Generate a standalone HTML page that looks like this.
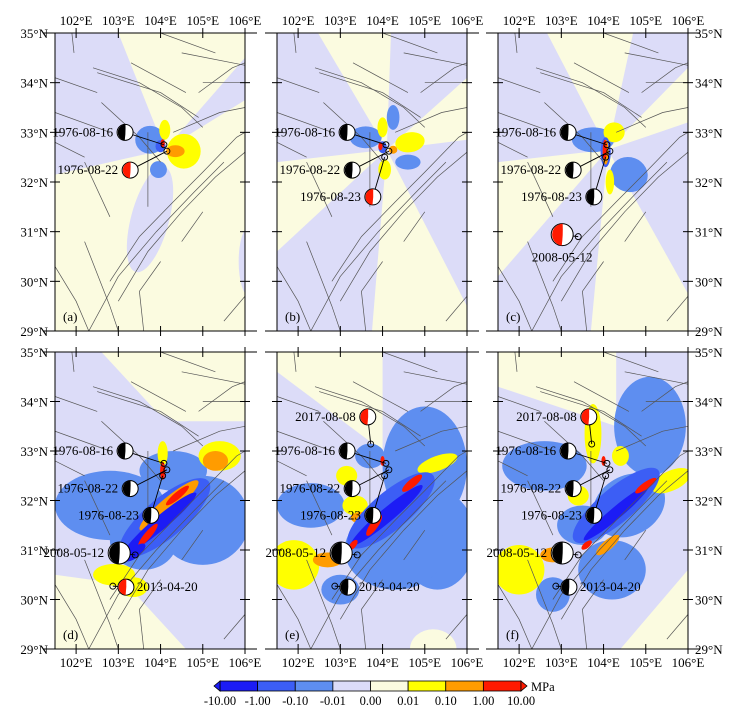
<!DOCTYPE html>
<html><head><meta charset="utf-8"><style>
html,body{margin:0;padding:0;background:#fff}
svg{display:block;font-family:"Liberation Serif",serif}
</style></head><body>
<svg id="fig" width="736" height="714" viewBox="0 0 736 714" xmlns="http://www.w3.org/2000/svg"></svg>
<script>
// ---------- data ----------
const lonTicks = [102,103,104,105,106];
const latTicks = [29,30,31,32,33,34,35];
const eventNames = ['1976-08-16','1976-08-22','1976-08-23','2008-05-12','2013-04-20','2017-08-08'];
const epiLon = [104.08,104.15,104.05,103.40,102.87,103.72];
const epiLat = [32.75,32.62,32.50,30.90,30.27,33.14];
const ballLon = [103.16,103.28,103.77,103.02,103.18,103.65];
const ballLat = [33.00,32.24,31.70,30.94,30.25,33.69];
const ballSize = [8,8,8,11,8,8];
const panelLetters = ['(a)','(b)','(c)','(d)','(e)','(f)'];
const panelEvents = [[0,1],[0,1,2],[0,1,2,3],[0,1,2,3,4],[0,1,2,3,4,5],[0,1,2,3,4,5]];
const panelRed = [1,2,3,4,5,5];
const cbarLabels = ['-10.00','-1.00','-0.10','-0.01','0.00','0.01','0.10','1.00','10.00'];
const cbarColors = ['#1c1cf5','#3c5ef5','#5e8ef0','#dcdcf8','#fbfbe0','#ffff00','#ff9c00','#ff1a00'];

const LAV='#dcdcf8',CRM='#fbfbe0',B1='#5e8ef0',B2='#3c5ef5',B3='#1c1cf5',YEL='#ffff00',ORG='#ff9c00',RED='#ff1a00';
const fields = [
 [ ['bg',CRM],
   ['p',LAV,[101.5,35,103.0,35,104.1,32.65,101.5,32.15]],
   ['p',LAV,[104.1,32.65,106,34.5,106,33.65]],
   ['e',LAV,103.75,31.25,0.45,1.1,-15],['e',LAV,106.1,30.4,0.25,0.7,0],
   ['e',B1,103.75,32.85,0.35,0.28,0],['e',B1,103.95,32.25,0.2,0.17,0],
   ['e',YEL,104.55,32.62,0.4,0.35,0],['e',YEL,104.1,33.05,0.13,0.2,0],
   ['e',B2,104.0,32.72,0.12,0.12,0],['e',ORG,104.35,32.62,0.22,0.12,0],['e',RED,104.05,32.78,0.05,0.08,0] ],
 [ ['bg',LAV],
   ['p',CRM,[102.47,35,104.2,35,104.1,32.65]],
   ['p',CRM,[104.1,32.65,106,34.1,106,32.85]],
   ['p',CRM,[104.1,32.65,101.5,32.4,101.5,30.6]],
   ['p',CRM,[104.1,32.65,103.75,29,106,29,106,29.5]],
   ['e',B1,103.6,32.9,0.38,0.22,0],['e',B1,104.25,33.3,0.15,0.25,0],['e',B1,104.6,32.4,0.3,0.15,0],
   ['e',YEL,104.65,32.8,0.35,0.2,10],['e',YEL,104.0,33.1,0.12,0.2,0],['e',YEL,104.05,32.25,0.15,0.2,0],
   ['e',B2,104.0,32.7,0.1,0.12,0],['e',ORG,104.25,32.65,0.1,0.08,0],['e',RED,103.95,32.72,0.05,0.08,0] ],
 [ ['bg',LAV],
   ['p',CRM,[102.66,35,104.7,35,104.1,32.65]],
   ['p',CRM,[104.1,32.65,106,34.3,106,33.2]],
   ['p',CRM,[104.1,32.65,101.5,32.4,101.5,30.1]],
   ['p',CRM,[104.1,32.65,103.7,29,106,29,106,29.75]],
   ['e',B1,103.75,32.85,0.5,0.25,0],['e',B1,104.6,32.15,0.45,0.35,-20],
   ['e',YEL,104.25,33.0,0.25,0.2,0],['e',YEL,104.15,32.0,0.1,0.25,0],
   ['e',B2,104.05,32.6,0.12,0.3,0],['e',ORG,104.05,32.6,0.07,0.25,0],['e',RED,104.03,32.65,0.05,0.2,0] ],
 [ ['bg',LAV],
   ['p',CRM,[102.6,35,106,35,106,33.6,104.4,33.6,103.9,33.8]],
   ['p',CRM,[101.5,30.5,103.2,30.3,104.6,29,101.5,29]],
   ['e',B1,102.8,31.9,1.3,0.7,0],['e',B1,105.0,31.6,1.1,0.9,0],['e',B1,104.3,32.6,0.8,0.4,0],
   ['e',B1,103.6,31.2,0.8,0.6,0],
   ['e',YEL,102.9,30.5,0.5,0.22,0],['e',YEL,103.35,30.25,0.35,0.2,0],['e',YEL,105.4,32.9,0.5,0.3,0],['e',YEL,104.05,32.95,0.12,0.25,0],
   ['e',ORG,105.3,32.8,0.3,0.2,0],
   ['e',B2,104.1,31.65,1.35,0.4,40],['e',ORG,104.2,31.9,0.9,0.16,40],['e',B3,104.0,31.55,1.1,0.14,40],
   ['e',RED,104.4,32.1,0.35,0.07,40],['e',RED,103.7,31.3,0.35,0.07,50],['e',RED,104.05,32.6,0.06,0.18,0],
   ['e',B3,103.4,30.95,0.3,0.1,40] ],
 [ ['bg',LAV],
   ['p',CRM,[101.5,35,104.0,35,104.0,33.0,101.5,34.6]],
   ['e',CRM,105.2,29.0,0.55,0.4,0],
   ['e',B1,105.0,32.7,1.0,1.2,0],['e',B1,105.3,31.2,0.9,1.0,0],['e',B1,102.3,31.9,0.8,0.45,0],['e',B1,104.3,31.0,1.2,0.8,0],
   ['e',B1,103.0,30.2,0.45,0.3,0],['e',B1,103.7,32.9,0.35,0.25,0],
   ['e',YEL,101.9,30.7,0.6,0.5,0],['e',ORG,102.7,30.8,0.35,0.15,0],['e',YEL,103.15,32.5,0.25,0.2,0],
   ['e',YEL,103.35,31.9,0.3,0.2,0],['e',ORG,103.5,31.65,0.25,0.12,0],['e',YEL,105.3,32.75,0.5,0.15,20],
   ['e',B2,104.2,31.8,1.3,0.38,40],['e',B3,104.1,31.7,1.1,0.14,40],
   ['e',RED,104.7,32.35,0.3,0.08,40],['e',RED,103.8,31.5,0.3,0.08,55],['e',RED,103.3,31.1,0.15,0.06,50],['e',RED,104.0,32.8,0.05,0.1,0] ],
 [ ['bg',LAV],
   ['p',CRM,[101.5,35,104.3,35,104.3,33.5,101.5,34.3]],
   ['p',CRM,[104.4,29,106,29,106,30.6]],
   ['e',B1,105.1,33.5,0.85,1.0,0],['e',B1,102.6,32.7,1.0,0.5,0],['e',B1,104.2,30.6,0.8,0.6,0],
   ['e',B1,104.6,31.9,0.9,0.6,30],['e',B1,102.8,30.1,0.4,0.35,0],['e',B1,103.5,31.5,0.6,0.4,0],
   ['e',YEL,103.75,33.35,0.2,0.6,0],['e',YEL,102.0,30.6,0.6,0.5,0],['e',ORG,102.8,30.9,0.3,0.15,0],
   ['e',YEL,104.4,32.9,0.2,0.2,0],['e',YEL,103.4,32.1,0.25,0.2,0],['e',YEL,105.6,32.4,0.5,0.2,25],
   ['e',B2,104.3,31.9,1.3,0.35,40],['e',B3,104.3,31.75,1.0,0.12,40],['e',ORG,104.1,31.1,0.35,0.1,40],
   ['e',RED,105.0,32.3,0.3,0.07,35],['e',RED,103.6,31.1,0.15,0.06,40],['e',RED,104.0,32.8,0.05,0.1,0] ]
];
const faults = [
 [101.9,35,101.95,34.6],[101.5,34.1,102.5,33.8],[102.4,34.3,103.5,34.0,104.5,33.5,105.0,33.1],
 [102.5,34.2,104.0,33.8,104.9,33.3],[103.3,34.4,104.6,33.8],[104.0,35,105.3,34.6],[104.5,34.6,106,34.35],
 [104.9,33.8,105.7,34.3,106,34.4],[105.0,34.0,106,34.0],[101.5,33.4,102.8,33.0],[101.5,32.8,102.2,32.5],
 [102.6,33.6,103.5,32.9,104.0,32.4],[103.7,33.0,103.7,31.5],[104.3,33.0,105.4,33.4,106,33.5],
 [102.8,30.0,103.5,30.9,104.3,31.6,105.0,32.2,105.8,32.9,106,33.0],
 [103.0,29.6,103.7,30.6,104.5,31.4,105.3,32.1,106,32.6],
 [102.3,29.0,103.0,30.1,103.9,31.0,104.8,31.8,105.5,32.4],
 [101.5,30.3,102.0,29.6,102.3,29.0],[102.2,30.8,102.8,29.5,103.0,29.0],
 [103.6,29.0,103.5,29.8,104.0,30.4],[104.5,30.8,105.0,31.4],[105.5,29.2,106,29.7],
 [102.2,32.4,102.8,31.3]
];

// ---------- drawing ----------
const NS='http://www.w3.org/2000/svg';
const svg=document.getElementById('fig');
function mk(tag,attrs,parent){const e=document.createElementNS(NS,tag);for(const k in attrs)e.setAttribute(k,attrs[k]);(parent||svg).appendChild(e);return e;}
const PX=[55,277,498], PY=[33,352], PW=190, PH=[298,297];
function panel(i){
  const col=i%3,row=Math.floor(i/3);
  const x0=PX[col],y0=PY[row],h=PH[row];
  const xs=lon=>x0+(lon-101.5)/4.5*PW;
  const ys=lat=>y0+(35-lat)/6*h;
  const g=mk('g',{});
  
  
  const cp=mk('clipPath',{id:'cp'+i},g);mk('rect',{x:x0,y:y0,width:PW,height:h},cp);
  const f=mk('g',{'clip-path':'url(#cp'+i+')'},g);
  fields[i].forEach(s=>{
    if(s[0]==='bg'){mk('rect',{x:x0,y:y0,width:PW,height:h,fill:s[1]},f);}
    else if(s[0]==='p'){const a=s[2],pts=[];for(let k=0;k<a.length;k+=2)pts.push(xs(a[k]).toFixed(1)+','+ys(a[k+1]).toFixed(1));
      const p=mk('polygon',{points:pts.join(' '),fill:s[1]},f);}
    else {const cx=xs(s[2]),cy=ys(s[3]);const el=mk('ellipse',{cx:cx,cy:cy,rx:s[4]/4.5*PW,ry:s[5]/6*h,fill:s[1],transform:'rotate('+(-s[6])+' '+cx+' '+cy+')'},f);
      }
  });
  faults.forEach(a=>{const pts=[];for(let k=0;k<a.length;k+=2)pts.push(xs(a[k]).toFixed(1)+','+ys(a[k+1]).toFixed(1));
    const l=mk('polyline',{points:pts.join(' '),fill:'none',stroke:'#555',"stroke-width":0.7},f);});
  panelEvents[i].forEach(k=>{
    const bx=xs(ballLon[k]),by=ys(ballLat[k]),ex=xs(epiLon[k]),ey=ys(epiLat[k]),r=ballSize[k];
    mk('line',{x1:bx,y1:by,x2:ex,y2:ey,stroke:'#000',"stroke-width":0.9},g);
    mk('circle',{cx:ex,cy:ey,r:3,fill:'none',stroke:'#000',"stroke-width":0.9},g);
    const bg=mk('g',{},g);
    
    
    const col2=(k===panelRed[i])?RED:'#000';
    mk('circle',{cx:bx,cy:by,r:r,fill:'#fff',stroke:'#000',"stroke-width":1},bg);
    mk('path',{d:`M${bx-r*0.3},${by-r*0.95} A${r},${r} 0 0 0 ${bx+r*0.3},${by+r*0.95} Q${bx+r*0.1},${by} ${bx-r*0.3},${by-r*0.95}Z`,fill:col2,transform:`rotate(20 ${bx} ${by})`},bg);
    let tx=bx-r-4,ty=by+4,anc='end';
    if(k===3&&i===2){tx=bx;ty=by+r+16;anc='middle';}
    if(k===4){tx=bx+r+3;anc='start';}
    const t=mk('text',{x:tx,y:ty,"font-size":13,"text-anchor":anc,fill:'#000'},g);t.textContent=eventNames[k];
    
  });
  const pl=mk('text',{x:x0+8,y:y0+h-10,"font-size":13},g);pl.textContent=panelLetters[i];
  
  mk('rect',{x:x0,y:y0,width:PW,height:h,fill:'none',stroke:'#000',"stroke-width":1},g);
  lonTicks.forEach(L=>{const x=xs(L);
    mk('line',{x1:x,y1:y0-5,x2:x,y2:y0+5,stroke:'#000'},g);mk('line',{x1:x,y1:y0+h-5,x2:x,y2:y0+h+5,stroke:'#000'},g);
    const t=mk('text',{x:x,y:row===0?y0-8:y0+h+18,"font-size":13,"text-anchor":'middle'},g);t.textContent=L+'°E';
    
  });
  mk('line',{x1:x0-12,y1:y0,x2:x0+PW+12,y2:y0,stroke:'#000'},g);
  mk('line',{x1:x0-12,y1:y0+h,x2:x0+PW+12,y2:y0+h,stroke:'#000'},g);
  latTicks.forEach(L=>{const y=ys(L);
    mk('line',{x1:x0-5,y1:y,x2:x0+5,y2:y,stroke:'#000'},g);mk('line',{x1:x0+PW-5,y1:y,x2:x0+PW+5,y2:y,stroke:'#000'},g);
    if(col===0){const t=mk('text',{x:x0-7,y:y+5,"font-size":13,"text-anchor":'end'},g);t.textContent=L+'°N';}
    if(col===2){const t=mk('text',{x:x0+PW+7,y:y+5,"font-size":13,"text-anchor":'start'},g);t.textContent=L+'°N';}
  });
}
for(let i=0;i<6;i++)panel(i);
const cb=mk('g',{});


const cbX0=220,cbX1=521,cbY=681,cbH=10,seg=(cbX1-cbX0)/cbarColors.length;
cbarColors.forEach((c,k)=>{mk('rect',{x:cbX0+k*seg,y:cbY,width:seg,height:cbH,fill:c,stroke:'#000',"stroke-width":0.8},cb);});
mk('polygon',{points:`${cbX0},${cbY} ${cbX0-6},${cbY+cbH/2} ${cbX0},${cbY+cbH}`,fill:cbarColors[0],stroke:'#000',"stroke-width":0.8},cb);
mk('polygon',{points:`${cbX1},${cbY} ${cbX1+6},${cbY+cbH/2} ${cbX1},${cbY+cbH}`,fill:cbarColors[7],stroke:'#000',"stroke-width":0.8},cb);
cbarLabels.forEach((l,k)=>{const t=mk('text',{x:cbX0+k*seg,y:705,"font-size":12.5,"text-anchor":'middle'},cb);t.textContent=l;
  });
const u=mk('text',{x:531,y:691,"font-size":12.5},cb);u.textContent='MPa';

</script>
</body></html>
